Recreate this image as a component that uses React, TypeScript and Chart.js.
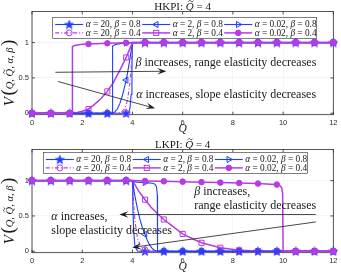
import React, { useEffect, useRef } from 'react';
import { Chart, registerables } from 'chart.js';

Chart.register(...registerables);

// ---------------- data ----------------
const markerQ = [0, 0.75, 1.5, 2.25, 3, 3.75, 4.5, 5.25, 6, 6.75, 7.5, 8.25, 9, 9.75, 10.5, 11.25, 12];
const xTickValues = [0, 2, 4, 6, 8, 10, 12];
const yTickValues = [0, 0.5, 1];

const seriesLabels = [
  'α = 20, β = 0.8',
  'α = 20, β = 0.4',
  'α = 2, β = 0.8',
  'α = 2, β = 0.4',
  'α = 0.02, β = 0.8',
  'α = 0.02, β = 0.4',
];

// HKPI curves [Q, V]
const hkA20B08 = [[0, 0], [3.8, 0], [3.85, 0.01], [3.9, 0.07], [3.95, 0.27], [3.98, 0.6], [4, 1], [12, 1]];
const hkA20B04 = [[0, 0], [3.4, 0], [3.5, 0.01], [3.6, 0.03], [3.7, 0.07], [3.8, 0.18], [3.9, 0.43], [3.95, 0.65], [4, 1], [12, 1]];
const hkA2B08 = [[0, 0], [3.2, 0], [3.3, 0.02], [3.4, 0.06], [3.5, 0.14], [3.6, 0.25], [3.7, 0.39], [3.75, 0.47], [3.8, 0.56], [3.9, 0.77], [4, 1], [12, 1]];
const hkA2B04 = [[0, 0], [1.6, 0], [1.8, 0.01], [2, 0.03], [2.25, 0.06], [2.5, 0.13], [2.75, 0.21], [3, 0.31], [3.25, 0.44], [3.5, 0.61], [3.75, 0.79], [4, 1], [12, 1]];
const hkA002B08 = [[0, 0], [3.2, 0], [3.2, 0.9], [3.22, 0.95], [3.3, 0.97], [3.5, 0.985], [3.75, 0.993], [4, 1], [12, 1]];
const hkA002B04 = [[0, 0], [1.6, 0], [1.6, 0.9], [1.62, 0.945], [1.7, 0.96], [2, 0.975], [2.25, 0.98], [3, 0.99], [3.75, 0.997], [4, 1], [12, 1]];

// HKPI marker values at markerQ
const hkMarkA20B08 = [0, 0, 0, 0, 0, 0, 1, 1, 1, 1, 1, 1, 1, 1, 1, 1, 1];
const hkMarkA20B04 = [0, 0, 0, 0, 0, 0, 1, 1, 1, 1, 1, 1, 1, 1, 1, 1, 1];
const hkMarkA2B08 = [0, 0, 0, 0, 0, 0.47, 1, 1, 1, 1, 1, 1, 1, 1, 1, 1, 1];
const hkMarkA2B04 = [0, 0, 0, 0.06, 0.31, 0.79, 1, 1, 1, 1, 1, 1, 1, 1, 1, 1, 1];
const hkMarkA002B08 = [0, 0, 0, 0, 0, 0.993, 1, 1, 1, 1, 1, 1, 1, 1, 1, 1, 1];
const hkMarkA002B04 = [0, 0, 0, 0.98, 0.99, 0.997, 1, 1, 1, 1, 1, 1, 1, 1, 1, 1, 1];

// LKPI curves [Q, V]
const lkA20B08 = [[0, 1], [4, 1], [4.02, 0.6], [4.05, 0.28], [4.1, 0.07], [4.2, 0.003], [4.3, 0], [12, 0]];
const lkA20B04 = [[0, 1], [4, 1], [4.05, 0.66], [4.1, 0.43], [4.2, 0.19], [4.3, 0.085], [4.5, 0.017], [4.75, 0.003], [5, 0], [12, 0]];
const lkA2B08 = [[0, 1], [4, 1], [4.1, 0.78], [4.2, 0.6], [4.3, 0.45], [4.4, 0.33], [4.5, 0.24], [4.6, 0.15], [4.7, 0.08], [4.8, 0.035], [4.9, 0.01], [5, 0], [12, 0]];
const lkA2B04 = [[0, 1], [4, 1], [4.25, 0.85], [4.5, 0.73], [4.75, 0.62], [5, 0.53], [5.25, 0.45], [5.5, 0.38], [6, 0.245], [6.5, 0.16], [6.75, 0.12], [7.5, 0.05], [8.25, 0.015], [9, 0.003], [10, 0], [12, 0]];
const lkA002B08 = [[0, 1], [4, 1], [4.03, 0.985], [4.2, 0.978], [4.5, 0.972], [4.8, 0.962], [4.9, 0.95], [4.96, 0.91], [4.99, 0.8], [5, 0], [12, 0]];
const lkA002B04 = [[0, 1], [4, 1], [4.5, 0.995], [5.25, 0.99], [6, 0.985], [6.75, 0.978], [7.5, 0.972], [8.25, 0.966], [9, 0.958], [9.5, 0.95], [9.75, 0.944], [9.87, 0.93], [9.94, 0.9], [9.98, 0.82], [10, 0], [12, 0]];

// LKPI marker values at markerQ
const lkMarkA20B08 = [1, 1, 1, 1, 1, 1, 0, 0, 0, 0, 0, 0, 0, 0, 0, 0, 0];
const lkMarkA20B04 = [1, 1, 1, 1, 1, 1, 0.02, 0, 0, 0, 0, 0, 0, 0, 0, 0, 0];
const lkMarkA2B08 = [1, 1, 1, 1, 1, 1, 0.24, 0, 0, 0, 0, 0, 0, 0, 0, 0, 0];
const lkMarkA2B04 = [1, 1, 1, 1, 1, 1, 0.73, 0.45, 0.245, 0.12, 0.05, 0.015, 0.003, 0, 0, 0, 0];
const lkMarkA002B08 = [1, 1, 1, 1, 1, 1, 0.972, 0, 0, 0, 0, 0, 0, 0, 0, 0, 0];
const lkMarkA002B04 = [1, 1, 1, 1, 1, 1, 0.995, 0.99, 0.985, 0.978, 0.972, 0.966, 0.958, 0.944, 0, 0, 0];

const hkTitle = 'HKPI: Q\u0303 = 4';
const lkTitle = 'LKPI: Q\u0303 = 4';

// annotations (data coordinates)
const hkArrows = [
  { from: [0.93, 0.58], to: [5.35, 0.595] },
  { from: [1.03, 0.45], to: [4.9, 0.07] },
];
const hkNotes = [
  { x: 4.12, y: 0.72, text: 'β increases, range elasticity decreases' },
  { x: 4.15, y: 0.26, text: 'α increases, slope elasticity decreases' },
];
const lkArrows = [
  { from: [11.3, 0.52], to: [3.48, 0.52] },
  { from: [11.3, 0.415], to: [3.99, 0.055] },
];
const lkNotes = [
  { x: 6.46, y: 0.84, text: 'β increases,' },
  { x: 6.46, y: 0.646, text: 'range elasticity decreases' },
  { x: 0.77, y: 0.487, text: 'α increases,' },
  { x: 0.77, y: 0.293, text: 'slope elasticity decreases' },
];

// ---------------- styles ----------------
const BLUE = '#1f3ff8';
const MAG = '#b63be6';
const INK = '#1a1a1a';
const AXIS = '#2b2b2b';
const SERIF = '"Liberation Serif", "DejaVu Serif", serif';
const SANS = '"Liberation Sans", Arial, sans-serif';
const ITALIC = 'αβQV';

const STYLES = [
  { color: BLUE, lw: 1.1, dash: [] as number[], marker: 'star', r: 3.5, rot: 0, fill: true },
  { color: MAG, lw: 1.1, dash: [4, 2, 1, 2], marker: 'circle', r: 3, rot: 0, fill: false },
  { color: BLUE, lw: 1.1, dash: [], marker: 'triangle', r: 3.5, rot: -90, fill: false },
  { color: MAG, lw: 1.5, dash: [], marker: 'rect', r: 3.6, rot: 0, fill: false },
  { color: BLUE, lw: 1.1, dash: [], marker: 'triangle', r: 3.5, rot: 90, fill: false },
  { color: MAG, lw: 1.5, dash: [], marker: 'circle', r: 2.8, rot: 0, fill: true },
];

const PANEL_H = 138;
const LAYOUT = { top: 11.5, right: 6.7, yAxisW: 32, xAxisH: 23.3, yMin: -0.02, yMax: 1.44 };
const FS = { title: 11, note: 12, legend: 9.3, axis: 11.5, tick: 7.5 };

function makeStar(color: string) {
  const c = document.createElement('canvas');
  c.width = 10;
  c.height = 10;
  const g = c.getContext('2d')!;
  g.beginPath();
  for (let i = 0; i < 10; i++) {
    const r = i % 2 === 0 ? 4.7 : 1.9;
    const a = -Math.PI / 2 + (i * Math.PI) / 5;
    const px = 5 + r * Math.cos(a);
    const py = 5.4 + r * Math.sin(a);
    if (i === 0) g.moveTo(px, py);
    else g.lineTo(px, py);
  }
  g.closePath();
  g.fillStyle = color;
  g.fill();
  g.strokeStyle = color;
  g.lineWidth = 0.7;
  g.stroke();
  return c;
}

function drawTilde(ctx: CanvasRenderingContext2D, cx: number, cy: number, w: number) {
  ctx.save();
  ctx.strokeStyle = ctx.fillStyle as string;
  ctx.lineWidth = Math.max(0.8, w * 0.16);
  ctx.setLineDash([]);
  ctx.beginPath();
  const h = w * 0.25;
  ctx.moveTo(cx - w / 2, cy + h * 0.4);
  ctx.bezierCurveTo(cx - w / 4, cy - h * 1.2, cx - w * 0.05, cy - h * 0.2, cx, cy);
  ctx.bezierCurveTo(cx + w * 0.05, cy + h * 0.2, cx + w / 4, cy + h * 1.2, cx + w / 2, cy - h * 0.4);
  ctx.stroke();
  ctx.restore();
}

function drawMath(ctx: CanvasRenderingContext2D, text: string, x: number, y: number, size: number, align = 'left', measureOnly = false) {
  const chars = Array.from(text);
  const fontFor = (it: boolean) => `${it ? 'italic ' : ''}${size}px ${SERIF}`;
  const items: any[] = [];
  let w = 0;
  for (const ch of chars) {
    if (ch === '\u0303') {
      items.push({ ch, tilde: true });
      continue;
    }
    const it = ITALIC.includes(ch);
    ctx.font = fontFor(it);
    const cw = ctx.measureText(ch).width;
    items.push({ ch, it, w: cw });
    w += cw;
  }
  if (measureOnly) return w;
  let cx = align === 'center' ? x - w / 2 : align === 'right' ? x - w : x;
  ctx.textBaseline = 'middle';
  ctx.textAlign = 'left';
  let prev: any = null;
  for (const item of items) {
    if (item.tilde) {
      if (prev) drawTilde(ctx, prev.x + prev.w / 2 + size * 0.1, y - size * 0.56, size * 0.45);
      continue;
    }
    ctx.font = fontFor(item.it);
    ctx.fillText(item.ch, cx, y);
    prev = { x: cx, w: item.w };
    cx += item.w;
  }
  return w;
}

function drawMarker(ctx: CanvasRenderingContext2D, s: any, x: number, y: number, star: HTMLCanvasElement) {
  ctx.save();
  ctx.strokeStyle = s.color;
  ctx.fillStyle = s.color;
  ctx.lineWidth = 1;
  ctx.setLineDash([]);
  if (s.marker === 'star') {
    ctx.drawImage(star, x - star.width / 2, y - star.height / 2);
  } else if (s.marker === 'circle') {
    ctx.beginPath();
    ctx.arc(x, y, s.r, 0, Math.PI * 2);
    if (s.fill) ctx.fill();
    ctx.stroke();
  } else if (s.marker === 'rect') {
    const h = s.r / Math.SQRT2;
    ctx.strokeRect(x - h, y - h, 2 * h, 2 * h);
  } else if (s.marker === 'triangle') {
    ctx.translate(x, y);
    ctx.rotate((s.rot * Math.PI) / 180);
    const r = s.r;
    ctx.beginPath();
    ctx.moveTo(0, -r);
    ctx.lineTo(r * 0.866, r * 0.5);
    ctx.lineTo(-r * 0.866, r * 0.5);
    ctx.closePath();
    ctx.stroke();
  }
  ctx.restore();
}

function drawArrow(ctx: CanvasRenderingContext2D, x1: number, y1: number, x2: number, y2: number) {
  const a = Math.atan2(y2 - y1, x2 - x1);
  const c = Math.cos(a);
  const s = Math.sin(a);
  const L = 9;
  const W = 3.3;
  ctx.save();
  ctx.strokeStyle = INK;
  ctx.fillStyle = INK;
  ctx.lineWidth = 0.8;
  ctx.beginPath();
  ctx.moveTo(x1, y1);
  ctx.lineTo(x2 - L * 0.6 * c, y2 - L * 0.6 * s);
  ctx.stroke();
  ctx.beginPath();
  ctx.moveTo(x2, y2);
  ctx.lineTo(x2 - L * c + W * s, y2 - L * s - W * c);
  ctx.lineTo(x2 - L * 0.6 * c, y2 - L * 0.6 * s);
  ctx.lineTo(x2 - L * c - W * s, y2 - L * s + W * c);
  ctx.closePath();
  ctx.fill();
  ctx.restore();
}

function buildDatasets(curves: number[][][], marks: number[][], star: HTMLCanvasElement) {
  const ds: any[] = [];
  STYLES.forEach((s, k) => {
    ds.push({
      data: curves[k].map(([x, y]) => ({ x, y })),
      borderColor: s.color,
      borderWidth: s.lw,
      borderDash: s.dash,
      pointRadius: 0,
      fill: false,
      tension: 0,
      order: 100 - 2 * k,
    });
    ds.push({
      data: markerQ.map((x, i) => ({ x, y: marks[k][i] })),
      showLine: false,
      pointStyle: s.marker === 'star' ? star : s.marker,
      pointRadius: s.r,
      pointRotation: s.rot,
      pointBorderColor: s.color,
      pointBackgroundColor: s.fill ? s.color : 'rgba(0,0,0,0)',
      pointBorderWidth: 1,
      clip: false,
      order: 99 - 2 * k,
    });
  });
  return ds;
}

function makePanelPlugin(panel: any, star: HTMLCanvasElement) {
  return {
    id: 'panelDecor' + panel.key,
    beforeDatasetsDraw(chart: any) {
      const { ctx, chartArea: a, scales } = chart;
      ctx.save();
      ctx.strokeStyle = AXIS;
      ctx.lineWidth = 0.8;
      ctx.strokeRect(a.left, a.top, a.right - a.left, a.bottom - a.top);
      ctx.beginPath();
      xTickValues.forEach((v) => {
        const px = scales.x.getPixelForValue(v);
        ctx.moveTo(px, a.bottom);
        ctx.lineTo(px, a.bottom - 3);
        ctx.moveTo(px, a.top);
        ctx.lineTo(px, a.top + 3);
      });
      yTickValues.forEach((v) => {
        const py = scales.y.getPixelForValue(v);
        ctx.moveTo(a.left, py);
        ctx.lineTo(a.left + 3, py);
        ctx.moveTo(a.right, py);
        ctx.lineTo(a.right - 3, py);
      });
      ctx.stroke();
      ctx.restore();
    },
    afterDraw(chart: any) {
      const { ctx, chartArea: a, scales } = chart;
      const X = (v: number) => scales.x.getPixelForValue(v);
      const Y = (v: number) => scales.y.getPixelForValue(v);
      ctx.save();
      ctx.fillStyle = INK;
      // title
      drawMath(ctx, panel.title, (a.left + a.right) / 2, 7.3, FS.title, 'center');
      // x axis title
      drawMath(ctx, 'Q', (a.left + a.right) / 2, 129, FS.axis, 'center');
      // y axis label
      ctx.save();
      ctx.translate(9.5, 73);
      ctx.rotate(-Math.PI / 2);
      const inner = 'Q, Q\u0303, α, β';
      const fV = 15;
      const fP = 19;
      const fIn = 10.5;
      ctx.font = `italic ${fV}px ${SERIF}`;
      const wV = ctx.measureText('V').width;
      ctx.font = `${fP}px ${SERIF}`;
      const wP = ctx.measureText('(').width;
      const wIn = drawMath(ctx, inner, 0, 0, fIn, 'left', true);
      const total = wV + 2 * wP + wIn + 3;
      let cx = -total / 2;
      ctx.textBaseline = 'middle';
      ctx.textAlign = 'left';
      ctx.font = `italic ${fV}px ${SERIF}`;
      ctx.fillText('V', cx, 0.5);
      cx += wV + 1.5;
      ctx.font = `${fP}px ${SERIF}`;
      ctx.fillText('(', cx, -0.5);
      cx += wP;
      drawMath(ctx, inner, cx, 0.5, fIn, 'left');
      cx += wIn + 1.5;
      ctx.font = `${fP}px ${SERIF}`;
      ctx.fillText(')', cx, -0.5);
      ctx.restore();

      // legend
      const L = panel.legend;
      ctx.fillStyle = '#ffffff';
      ctx.fillRect(L.x, L.y, L.w, L.h);
      ctx.strokeStyle = AXIS;
      ctx.lineWidth = 0.6;
      ctx.strokeRect(L.x, L.y, L.w, L.h);
      const colOff = [2.5, 89.5, 171.5];
      const rowOff = [7.2, 15.6];
      STYLES.forEach((s, k) => {
        const col = Math.floor(k / 2);
        const row = k % 2;
        const lx = L.x + colOff[col];
        const ly = L.y + rowOff[row];
        ctx.save();
        ctx.strokeStyle = s.color;
        ctx.lineWidth = s.lw;
        ctx.setLineDash(s.dash);
        ctx.beginPath();
        ctx.moveTo(lx, ly);
        ctx.lineTo(lx + 28, ly);
        ctx.stroke();
        ctx.restore();
        drawMarker(ctx, s, lx + 14, ly, star);
        ctx.fillStyle = INK;
        drawMath(ctx, seriesLabels[k], lx + 30.5, ly + 0.5, FS.legend, 'left');
      });

      // annotations
      panel.arrows.forEach((ar: any) => {
        drawArrow(ctx, X(ar.from[0]), Y(ar.from[1]), X(ar.to[0]), Y(ar.to[1]));
      });
      ctx.fillStyle = INK;
      panel.notes.forEach((n: any) => {
        drawMath(ctx, n.text, X(n.x), Y(n.y), FS.note, 'left');
      });
      ctx.restore();
    },
  };
}

function makeConfig(panel: any, star: HTMLCanvasElement) {
  return {
    type: 'line',
    data: { datasets: buildDatasets(panel.curves, panel.marks, star) },
    options: {
      responsive: false,
      animation: false,
      devicePixelRatio: 1,
      events: [],
      layout: { padding: { top: LAYOUT.top, right: LAYOUT.right, left: 0, bottom: 0 } },
      plugins: { legend: { display: false }, tooltip: { enabled: false }, title: { display: false } },
      scales: {
        x: {
          type: 'linear',
          min: 0,
          max: 12,
          afterBuildTicks: (s: any) => {
            s.ticks = xTickValues.map((v) => ({ value: v }));
          },
          afterFit: (s: any) => {
            s.height = LAYOUT.xAxisH;
          },
          ticks: { font: { family: SANS, size: FS.tick }, color: AXIS, padding: 3.5, maxRotation: 0, autoSkip: false },
          grid: { color: 'rgba(0,0,0,0.07)', drawTicks: false, lineWidth: 0.6 },
          border: { display: false },
        },
        y: {
          type: 'linear',
          min: LAYOUT.yMin,
          max: LAYOUT.yMax,
          afterBuildTicks: (s: any) => {
            s.ticks = yTickValues.map((v) => ({ value: v }));
          },
          afterFit: (s: any) => {
            s.width = LAYOUT.yAxisW;
          },
          ticks: { font: { family: SANS, size: FS.tick }, color: AXIS, padding: 3, callback: (v: any) => String(v) },
          grid: { color: 'rgba(0,0,0,0.07)', drawTicks: false, lineWidth: 0.6 },
          border: { display: false },
        },
      },
    },
    plugins: [makePanelPlugin(panel, star)],
  };
}

export default function App() {
  const topRef = useRef<HTMLCanvasElement>(null);
  const botRef = useRef<HTMLCanvasElement>(null);

  useEffect(() => {
    const star = makeStar(BLUE);
    const topPanel = {
      key: 'hk',
      title: hkTitle,
      curves: [hkA20B08, hkA20B04, hkA2B08, hkA2B04, hkA002B08, hkA002B04],
      marks: [hkMarkA20B08, hkMarkA20B04, hkMarkA2B08, hkMarkA2B04, hkMarkA002B08, hkMarkA002B04],
      arrows: hkArrows,
      notes: hkNotes,
      legend: { x: 52.7, y: 17.3, w: 264, h: 21 },
    };
    const botPanel = {
      key: 'lk',
      title: lkTitle,
      curves: [lkA20B08, lkA20B04, lkA2B08, lkA2B04, lkA002B08, lkA002B04],
      marks: [lkMarkA20B08, lkMarkA20B04, lkMarkA2B08, lkMarkA2B04, lkMarkA002B08, lkMarkA002B04],
      arrows: lkArrows,
      notes: lkNotes,
      legend: { x: 43.3, y: 14.3, w: 264.4, h: 21 },
    };
    const c1 = new Chart(topRef.current!, makeConfig(topPanel, star) as any);
    const c2 = new Chart(botRef.current!, makeConfig(botPanel, star) as any);
    return () => {
      c1.destroy();
      c2.destroy();
    };
  }, []);

  return (
    <div style={{ position: 'absolute', left: 0, top: 0, width: 341, height: 276, background: '#ffffff' }}>
      <canvas ref={topRef} width={341} height={PANEL_H} style={{ position: 'absolute', left: 0, top: 0, width: 341, height: PANEL_H }} />
      <canvas ref={botRef} width={341} height={PANEL_H} style={{ position: 'absolute', left: 0, top: PANEL_H, width: 341, height: PANEL_H }} />
    </div>
  );
}
